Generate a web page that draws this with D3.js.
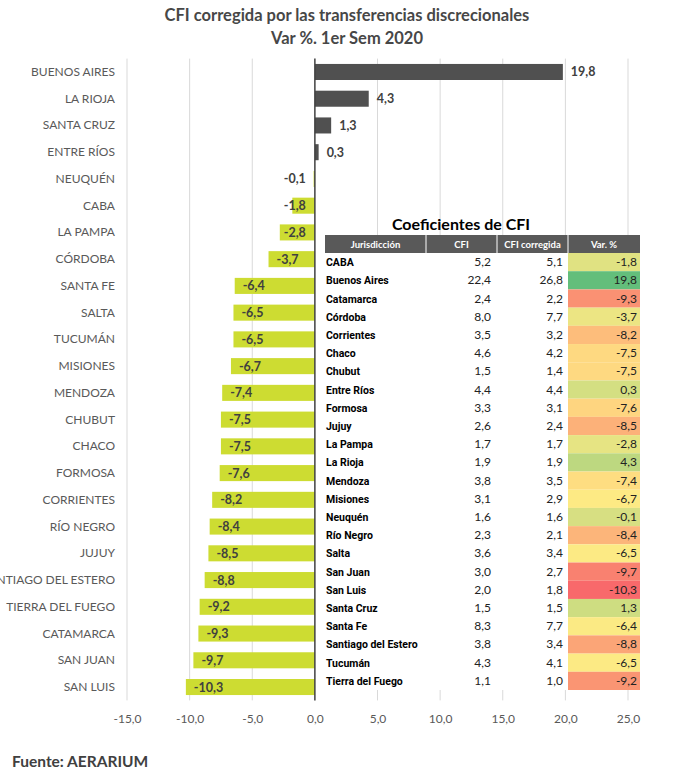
<!DOCTYPE html>
<html>
<head>
<meta charset="utf-8">
<script src="https://cdn.jsdelivr.net/npm/d3@7/dist/d3.min.js"></script>
<style>
  body { margin: 0; background: #fff; }
  svg { display: block; }
</style>
</head>
<body>
<div id="chart"></div>
<script>
// Bar chart data (top to bottom)
const provinces = ["BUENOS AIRES", "LA RIOJA", "SANTA CRUZ", "ENTRE RÍOS", "NEUQUÉN", "CABA",
  "LA PAMPA", "CÓRDOBA", "SANTA FE", "SALTA", "TUCUMÁN", "MISIONES", "MENDOZA", "CHUBUT",
  "CHACO", "FORMOSA", "CORRIENTES", "RÍO NEGRO", "JUJUY", "SANTIAGO DEL ESTERO",
  "TIERRA DEL FUEGO", "CATAMARCA", "SAN JUAN", "SAN LUIS"];
const variation = [19.8, 4.3, 1.3, 0.3, -0.1, -1.8, -2.8, -3.7, -6.4, -6.5, -6.5, -6.7, -7.4,
  -7.5, -7.5, -7.6, -8.2, -8.4, -8.5, -8.8, -9.2, -9.3, -9.7, -10.3];
const xTicks = [-15, -10, -5, 0, 5, 10, 15, 20, 25];

// Table data
const tableHeaders = ["Jurisdicción", "CFI", "CFI corregida", "Var. %"];
const jurisdictions = ["CABA", "Buenos Aires", "Catamarca", "Córdoba", "Corrientes", "Chaco",
  "Chubut", "Entre Ríos", "Formosa", "Jujuy", "La Pampa", "La Rioja", "Mendoza", "Misiones",
  "Neuquén", "Río Negro", "Salta", "San Juan", "San Luis", "Santa Cruz", "Santa Fe",
  "Santiago del Estero", "Tucumán", "Tierra del Fuego"];
const cfi = [5.2, 22.4, 2.4, 8.0, 3.5, 4.6, 1.5, 4.4, 3.3, 2.6, 1.7, 1.9, 3.8, 3.1, 1.6, 2.3,
  3.6, 3.0, 2.0, 1.5, 8.3, 3.8, 4.3, 1.1];
const cfiCorregida = [5.1, 26.8, 2.2, 7.7, 3.2, 4.2, 1.4, 4.4, 3.1, 2.4, 1.7, 1.9, 3.5, 2.9,
  1.6, 2.1, 3.4, 2.7, 1.8, 1.5, 7.7, 3.4, 4.1, 1.0];
const tableVar = [-1.8, 19.8, -9.3, -3.7, -8.2, -7.5, -7.5, 0.3, -7.6, -8.5, -2.8, 4.3, -7.4,
  -6.7, -0.1, -8.4, -6.5, -9.7, -10.3, 1.3, -6.4, -8.8, -6.5, -9.2];

const W = 681, H = 779;
const fmt = v => d3.format(".1f")(v).replace(".", ",").replace("−", "-");

const svg = d3.select("#chart").append("svg")
  .attr("width", W).attr("height", H);

// Titles
svg.append("text")
  .attr("x", 347).attr("y", 21)
  .attr("text-anchor", "middle")
  .style("font", "bold 16.5px Lato, sans-serif")
  .style("fill", "#474747")
  .text("CFI corregida por las transferencias discrecionales");
svg.append("text")
  .attr("x", 347).attr("y", 44)
  .attr("text-anchor", "middle")
  .style("font", "bold 16.5px Lato, sans-serif")
  .style("fill", "#474747")
  .text("Var %. 1er Sem 2020");

// Scales
const x = d3.scaleLinear().domain([-15, 25]).range([127, 628]);
const y = d3.scaleBand().domain(provinces).range([58.6, 700.4]).paddingInner(0.4).paddingOuter(0.2);
const yTop = 58.6, yBottom = 700.4;

// Gridlines
svg.append("g").selectAll("line")
  .data(xTicks.filter(t => t !== 0))
  .enter().append("line")
    .attr("x1", d => x(d)).attr("x2", d => x(d))
    .attr("y1", yTop).attr("y2", yBottom)
    .attr("stroke", "#d9d9d9").attr("stroke-width", 1);

// X axis labels
const xAxis = svg.append("g")
  .attr("transform", `translate(0,${yBottom})`)
  .call(d3.axisBottom(x).tickValues(xTicks).tickFormat(fmt).tickSize(0).tickPadding(14));
xAxis.select(".domain").remove();
xAxis.selectAll("text")
  .style("font", "12px Lato, sans-serif")
  .style("fill", "#595959");

// Category labels
svg.append("g").selectAll("text")
  .data(provinces)
  .enter().append("text")
    .attr("x", 115)
    .attr("y", d => y(d) + y.bandwidth() / 2 + 4)
    .attr("text-anchor", "end")
    .style("font", "12px Lato, sans-serif")
    .style("fill", "#595959")
    .text(d => d);

// Bars
const bars = provinces.map((p, i) => ({ name: p, value: variation[i] }));
svg.append("g").selectAll("rect")
  .data(bars)
  .enter().append("rect")
    .attr("x", d => x(Math.min(0, d.value)))
    .attr("y", d => y(d.name))
    .attr("width", d => Math.abs(x(d.value) - x(0)))
    .attr("height", y.bandwidth())
    .attr("fill", d => d.value >= 0 ? "#505050" : "#cddc32");

// Bar labels
svg.append("g").selectAll("text")
  .data(bars)
  .enter().append("text")
    .attr("y", d => y(d.name) + y.bandwidth() / 2 + 4.5)
    .style("font", "bold 12.5px Lato, sans-serif")
    .style("fill", "#404040")
    .text(d => fmt(d.value))
    .attr("x", function (d) {
      if (d.value >= 0) return x(d.value) + 8;
      const w = this.getComputedTextLength();
      return Math.min(x(d.value) + 8, x(0) - 9 - w);
    });

// Zero axis line
svg.append("line")
  .attr("x1", x(0)).attr("x2", x(0))
  .attr("y1", yTop).attr("y2", yBottom)
  .attr("stroke", "#404040").attr("stroke-width", 1.5);

// Table
const tbl = svg.append("g");
const colX = [325, 426, 497, 568, 640];
const ty = d3.scaleBand().domain(jurisdictions).range([253, 690]);
const varColor = d3.scaleLinear()
  .domain([d3.min(tableVar), d3.median(tableVar), d3.max(tableVar)])
  .range(["#f8696b", "#ffeb84", "#63be7b"]);

tbl.append("rect")
  .attr("x", colX[0]).attr("y", 235)
  .attr("width", colX[4] - colX[0]).attr("height", 690 - 235)
  .attr("fill", "#fff");

tbl.append("text")
  .attr("x", 461).attr("y", 230)
  .attr("text-anchor", "middle")
  .style("font", "bold 16px Lato, sans-serif")
  .style("fill", "#000")
  .text("Coeficientes de CFI");

// Header
tbl.append("rect")
  .attr("x", colX[0]).attr("y", 235)
  .attr("width", colX[4] - colX[0]).attr("height", 18)
  .attr("fill", "#595959");
tbl.selectAll("line.sep")
  .data(colX.slice(1, 4))
  .enter().append("line")
    .attr("class", "sep")
    .attr("x1", d => d).attr("x2", d => d)
    .attr("y1", 235).attr("y2", 253)
    .attr("stroke", "#fff").attr("stroke-width", 1);
tbl.selectAll("text.head")
  .data(tableHeaders)
  .enter().append("text")
    .attr("class", "head")
    .attr("x", (d, i) => (colX[i] + colX[i + 1]) / 2)
    .attr("y", 248)
    .attr("text-anchor", "middle")
    .style("font", "bold 9.5px Lato, sans-serif")
    .style("fill", "#fff")
    .text(d => d);

// Rows
const rows = jurisdictions.map((j, i) => ({ name: j, cfi: cfi[i], corr: cfiCorregida[i], v: tableVar[i] }));
const row = tbl.selectAll("g.row")
  .data(rows)
  .enter().append("g")
    .attr("class", "row")
    .attr("transform", d => `translate(0,${ty(d.name)})`);

row.append("rect")
  .attr("x", colX[3]).attr("y", 0)
  .attr("width", colX[4] - colX[3]).attr("height", ty.bandwidth())
  .attr("fill", d => varColor(d.v));

const mid = ty.bandwidth() / 2 + 4;
row.append("text")
  .attr("x", colX[0] + 1).attr("y", mid)
  .style("font", "bold 10.5px Roboto, sans-serif")
  .style("fill", "#000")
  .text(d => d.name);
row.append("text")
  .attr("x", 491).attr("y", mid)
  .attr("text-anchor", "end")
  .style("font", "12px Lato, sans-serif")
  .style("fill", "#222")
  .text(d => fmt(d.cfi));
row.append("text")
  .attr("x", 563).attr("y", mid)
  .attr("text-anchor", "end")
  .style("font", "12px Lato, sans-serif")
  .style("fill", "#222")
  .text(d => fmt(d.corr));
row.append("text")
  .attr("x", 637).attr("y", mid)
  .attr("text-anchor", "end")
  .style("font", "12px Lato, sans-serif")
  .style("fill", "#222")
  .text(d => fmt(d.v));

// Source
svg.append("text")
  .attr("x", 12).attr("y", 767)
  .style("font", "bold 15.5px Lato, sans-serif")
  .style("fill", "#404040")
  .text("Fuente: AERARIUM");
</script>
</body>
</html>
